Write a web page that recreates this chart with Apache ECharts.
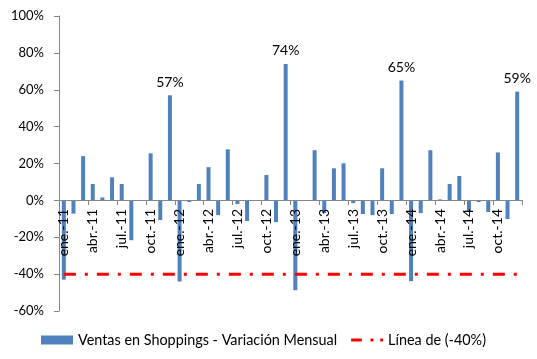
<!DOCTYPE html>
<html>
<head>
<meta charset="utf-8">
<script src="https://cdn.jsdelivr.net/npm/echarts@6/dist/echarts.min.js"></script>
<style>html,body{margin:0;padding:0;background:#fff}#c{width:537px;height:359px}</style>
</head>
<body>
<div id="c"></div>
<script>
var months = ['ene.','feb.','mar.','abr.','may.','jun.','jul.','ago.','sep.','oct.','nov.','dic.'];
var years = ['11','12','13','14'];
var categories = [];
years.forEach(function(y){ months.forEach(function(m){ categories.push(m + '-' + y); }); });

var ventas = [
  -43, -7.2, 24, 8.9, 1.6, 12.5, 8.9, -21.6, 0, 25.5, -10.7, 57,
  -44, -0.9, 8.9, 18, -8, 27.7, -2, -11.2, 0, 13.8, -11.8, 74,
  -48.7, 0, 27.2, -6.9, 17.4, 20.1, -1.5, -7.4, -8, 17.4, -7.4, 65,
  -43.8, -6.9, 27.2, 0.5, 8.9, 13.2, -6.3, -0.9, -6.3, 26, -10.1, 59
];
var linea = categories.map(function(){ return -40; });
var yTicks = [-60, -40, -20, 0, 20, 40, 60, 80, 100];

var font = 'Lato, "Open Sans", sans-serif';
var barData = ventas.map(function(v){
  return v > 50 ? {value: v, label: {show: true}} : v;
});

var chart = echarts.init(document.getElementById('c'));
chart.setOption({
  animation: false,
  textStyle: {fontFamily: font},
  grid: {left: 59, right: 15, top: 16, bottom: 48, containLabel: false, outerBoundsMode: 'none'},
  legend: {
    bottom: 12, left: 41, padding: 0,
    itemGap: 14, itemWidth: 32, itemHeight: 9,
    textStyle: {fontFamily: font, fontSize: 14.4, color: '#000'},
    data: [
      {name: 'Ventas en Shoppings - Variación Mensual', icon: 'rect'},
      {name: 'Línea de (-40%)', icon: 'path://M0,0H11V3H0Z M20,0H23V3H20Z M30,0H33V3H30Z'}
    ]
  },
  xAxis: {
    type: 'category',
    data: categories,
    offset: -111,
    z: 5,
    axisLine: {onZero: false, lineStyle: {color: '#868686', width: 1}},
    axisTick: {show: true, interval: 2, length: 5, lineStyle: {color: '#868686'}},
    axisLabel: {interval: 2, rotate: 90, margin: 9, fontSize: 14, color: '#000', fontFamily: font}
  },
  yAxis: {
    type: 'value',
    min: yTicks[0], max: yTicks[yTicks.length-1], interval: 20,
    splitLine: {show: false},
    axisLine: {show: true, lineStyle: {color: '#868686'}},
    axisTick: {show: true, length: 5, lineStyle: {color: '#868686'}},
    axisLabel: {formatter: '{value}%', fontSize: 13, color: '#000', margin: 15, fontFamily: font}
  },
  series: [
    {
      name: 'Ventas en Shoppings - Variación Mensual',
      type: 'bar',
      data: barData,
      barWidth: 4,
      itemStyle: {color: '#4F81BD'},
      label: {show: false, position: 'top', distance: 6, formatter: '{c}%', fontSize: 14, color: '#000', fontFamily: font}
    },
    {
      name: 'Línea de (-40%)',
      type: 'line',
      data: linea,
      symbol: 'none',
      symbolKeepAspect: true,
      z: 3,
      itemStyle: {color: '#FF0000'},
      lineStyle: {color: '#FF0000', width: 3, type: [12, 9, 3, 9]}
    }
  ]
});
</script>
</body>
</html>
